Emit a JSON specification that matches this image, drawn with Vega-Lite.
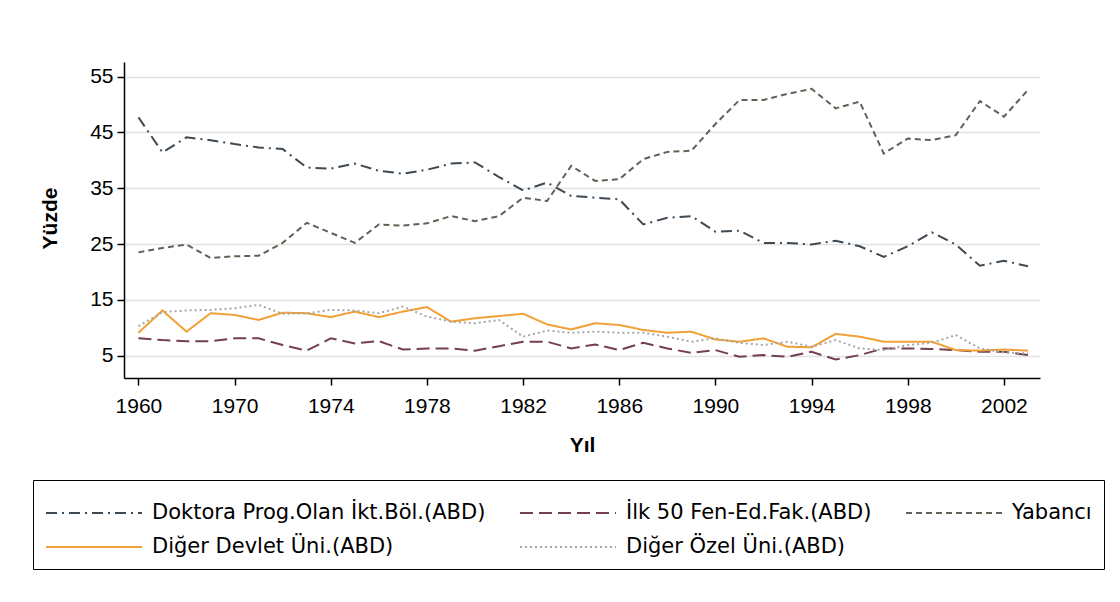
{
  "$schema": "https://vega.github.io/schema/vega-lite/v6.json",
  "width": 916,
  "height": 316,
  "autosize": {"type": "none"},
  "padding": {"left": 124, "top": 62, "right": 80, "bottom": 224},
  "background": "white",
  "datasets": {
    "d": [
      {"yil":1966,"D":47.7,"I":8.1,"Y":23.5,"G":9.1,"O":10.3},
      {"yil":1967,"D":41.4,"I":7.8,"Y":24.3,"G":13.1,"O":12.8},
      {"yil":1968,"D":44.1,"I":7.6,"Y":24.9,"G":9.3,"O":13.1},
      {"yil":1969,"D":43.6,"I":7.6,"Y":22.5,"G":12.6,"O":13.2},
      {"yil":1970,"D":42.9,"I":8.1,"Y":22.8,"G":12.3,"O":13.5},
      {"yil":1971,"D":42.3,"I":8.1,"Y":22.9,"G":11.4,"O":14.1},
      {"yil":1972,"D":42.0,"I":6.9,"Y":25.2,"G":12.7,"O":12.5},
      {"yil":1973,"D":38.7,"I":5.9,"Y":28.8,"G":12.6,"O":12.6},
      {"yil":1974,"D":38.5,"I":8.1,"Y":27.0,"G":11.9,"O":13.2},
      {"yil":1975,"D":39.4,"I":7.2,"Y":25.2,"G":12.9,"O":13.1},
      {"yil":1976,"D":38.1,"I":7.6,"Y":28.5,"G":11.9,"O":12.6},
      {"yil":1977,"D":37.6,"I":6.1,"Y":28.3,"G":12.9,"O":13.8},
      {"yil":1978,"D":38.3,"I":6.3,"Y":28.7,"G":13.7,"O":12.0},
      {"yil":1979,"D":39.4,"I":6.3,"Y":30.0,"G":11.1,"O":11.1},
      {"yil":1980,"D":39.6,"I":5.9,"Y":29.1,"G":11.7,"O":10.8},
      {"yil":1981,"D":37.0,"I":6.7,"Y":30.0,"G":12.1,"O":11.4},
      {"yil":1982,"D":34.6,"I":7.5,"Y":33.3,"G":12.5,"O":8.4},
      {"yil":1983,"D":36.0,"I":7.5,"Y":32.7,"G":10.6,"O":9.5},
      {"yil":1984,"D":33.6,"I":6.3,"Y":39.0,"G":9.7,"O":9.1},
      {"yil":1985,"D":33.3,"I":7.0,"Y":36.3,"G":10.8,"O":9.3},
      {"yil":1986,"D":33.0,"I":6.0,"Y":36.6,"G":10.5,"O":9.1},
      {"yil":1987,"D":28.5,"I":7.3,"Y":40.2,"G":9.6,"O":9.1},
      {"yil":1988,"D":29.7,"I":6.3,"Y":41.5,"G":9.1,"O":8.4},
      {"yil":1989,"D":30.0,"I":5.5,"Y":41.7,"G":9.3,"O":7.5},
      {"yil":1990,"D":27.2,"I":6.0,"Y":46.5,"G":7.9,"O":8.1},
      {"yil":1991,"D":27.4,"I":4.8,"Y":50.8,"G":7.5,"O":7.3},
      {"yil":1992,"D":25.2,"I":5.1,"Y":50.8,"G":8.1,"O":6.9},
      {"yil":1993,"D":25.2,"I":4.8,"Y":51.9,"G":6.6,"O":7.5},
      {"yil":1994,"D":24.9,"I":5.7,"Y":52.8,"G":6.5,"O":6.6},
      {"yil":1995,"D":25.6,"I":4.3,"Y":49.3,"G":8.9,"O":7.8},
      {"yil":1996,"D":24.6,"I":5.1,"Y":50.5,"G":8.4,"O":6.3},
      {"yil":1997,"D":22.7,"I":6.3,"Y":41.2,"G":7.5,"O":6.0},
      {"yil":1998,"D":24.6,"I":6.3,"Y":43.9,"G":7.5,"O":6.9},
      {"yil":1999,"D":27.1,"I":6.2,"Y":43.6,"G":7.5,"O":7.3},
      {"yil":2000,"D":24.9,"I":6.0,"Y":44.5,"G":6.0,"O":8.7},
      {"yil":2001,"D":21.1,"I":5.7,"Y":50.6,"G":5.9,"O":6.3},
      {"yil":2002,"D":22.0,"I":5.7,"Y":47.8,"G":6.1,"O":5.6},
      {"yil":2003,"D":21.0,"I":5.1,"Y":52.6,"G":5.9,"O":5.4}
    ],
    "names": [
      {"k":"D","seri":"Doktora Prog.Olan İkt.Böl.(ABD)"},
      {"k":"I","seri":"İlk 50 Fen-Ed.Fak.(ABD)"},
      {"k":"Y","seri":"Yabancı"},
      {"k":"G","seri":"Diğer Devlet Üni.(ABD)"},
      {"k":"O","seri":"Diğer Özel Üni.(ABD)"}
    ]
  },
  "data": {"name": "d"},
  "transform": [
    {"fold": ["D","I","Y","G","O"], "as": ["k","deger"]},
    {"lookup": "k", "from": {"data": {"name": "names"}, "key": "k", "fields": ["seri"]}}
  ],
  "mark": {"type": "line", "strokeWidth": 2, "clip": true},
  "encoding": {
    "x": {
      "field": "yil", "type": "quantitative",
      "scale": {"domain": [1965.4, 2003.5], "nice": false, "zero": false},
      "axis": {
        "values": [1966,1970,1974,1978,1982,1986,1990,1994,1998,2002],
        "labelExpr": "datum.value == 1966 ? '1960' : datum.label",
        "format": "d", "title": "Yıl", "grid": false,
        "labelPadding": 10,
        "titleX": 458, "titleY": 67, "titleBaseline": "middle", "titleAlign": "center"
      }
    },
    "y": {
      "field": "deger", "type": "quantitative",
      "scale": {"domain": [1, 57.6], "nice": false, "zero": false},
      "axis": {
        "values": [5,15,25,35,45,55], "title": "Yüzde", "grid": true,
        "labelPadding": 4,
        "titleX": -74, "titleY": 156, "titleAngle": -90, "titleBaseline": "middle", "titleAlign": "center"
      }
    },
    "color": {
      "field": "seri", "type": "nominal",
      "scale": {
        "domain": ["Doktora Prog.Olan İkt.Böl.(ABD)","İlk 50 Fen-Ed.Fak.(ABD)","Yabancı","Diğer Devlet Üni.(ABD)","Diğer Özel Üni.(ABD)"],
        "range": ["#3e4952","#74404a","#5d6456","#f0a035","#a6a6a6"]
      },
      "legend": {"title": null}
    },
    "strokeDash": {
      "field": "seri", "type": "nominal",
      "scale": {
        "domain": ["Doktora Prog.Olan İkt.Böl.(ABD)","İlk 50 Fen-Ed.Fak.(ABD)","Yabancı","Diğer Devlet Üni.(ABD)","Diğer Özel Üni.(ABD)"],
        "range": [[11,5,2,5],[13,6],[6,4],[1,0],[2,3]]
      },
      "legend": {"title": null}
    }
  },
  "config": {
    "view": {"stroke": null},
    "axis": {
      "domainColor": "black", "domainWidth": 1.5,
      "tickColor": "black", "tickWidth": 1.5, "tickSize": 7,
      "labelFont": "Liberation Sans", "labelFontSize": 21, "labelColor": "black",
      "titleFont": "Liberation Sans", "titleFontSize": 21, "titleFontWeight": "bold", "titleColor": "black",
      "gridColor": "#e2e2e2", "gridWidth": 1.5
    },
    "legend": {
      "orient": "none", "legendX": -91, "legendY": 418,
      "direction": "horizontal",
      "columns": 3,
      "symbolType": "M-2.4,0H2.4", "symbolSize": 1600, "symbolStrokeWidth": 2,
      "symbolOffset": 28,
      "labelFont": "DejaVu Sans", "labelFontSize": 21, "labelColor": "black",
      "labelOffset": 37, "labelLimit": 600,
      "columnPadding": 30, "rowPadding": 3,
      "padding": 12,
      "strokeColor": "black", "fillColor": "white"
    }
  }
}
